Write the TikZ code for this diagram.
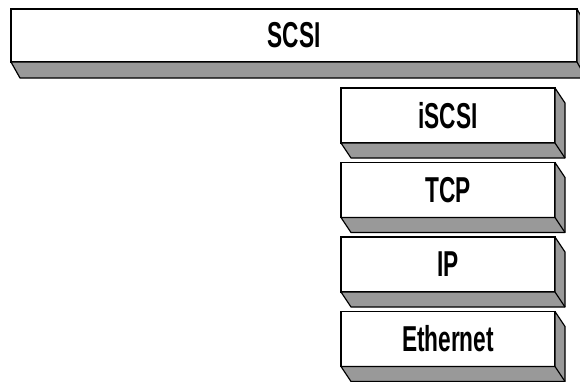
\documentclass[tikz,border=0pt]{standalone}
\usepackage{fontspec}
\usepackage{tikz}
\newfontfamily\layerfont[FakeStretch=0.63]{Liberation Sans}
\definecolor{SlabGray}{rgb}{0.6, 0.6, 0.6}
\usetikzlibrary{
	positioning,
	calc
}

\begin{document}
\begin{tikzpicture}[
	framed/.style={draw, line width=1.2pt, fill=white, inner sep=0pt, outer sep=0pt,
		font=\layerfont\bfseries\fontsize{36}{40}\selectfont},
	layer/.style={framed, minimum width=214pt, minimum height=55pt},
	widelayer/.style={framed, minimum width=566pt, minimum height=53pt},
	slab/.style={draw, line width=1.2pt, fill=SlabGray, line join=round}
]
	\useasboundingbox (0,0) rectangle (580pt,-381pt);
	\clip (0,0) rectangle (580pt,-381pt);

	\node[widelayer, anchor=north west] (scsi) at (11pt,-9pt) {SCSI};
	\draw[slab] (scsi.south west) -- ++(9pt,-16pt) -- ($(scsi.south east)+(9pt,-16pt)$)
		-- ($(scsi.north east)+(9pt,-16pt)$) -- (scsi.north east) -- (scsi.south east) -- cycle;
	\draw[slab] (scsi.south east) -- ++(9pt,-16pt);

	\node[layer, anchor=north west] (iscsi) at (341pt,-88pt) {iSCSI};
	\draw[slab] (iscsi.south west) -- ++(10pt,-15pt) -- ($(iscsi.south east)+(10pt,-15pt)$)
		-- ($(iscsi.north east)+(10pt,-15pt)$) -- (iscsi.north east) -- (iscsi.south east) -- cycle;
	\draw[slab] (iscsi.south east) -- ++(10pt,-15pt);

	\node[layer, below=19.5pt of iscsi] (tcp) {TCP};
	\draw[slab] (tcp.south west) -- ++(10pt,-15pt) -- ($(tcp.south east)+(10pt,-15pt)$)
		-- ($(tcp.north east)+(10pt,-15pt)$) -- (tcp.north east) -- (tcp.south east) -- cycle;
	\draw[slab] (tcp.south east) -- ++(10pt,-15pt);

	\node[layer, below=19.5pt of tcp] (ip) {IP};
	\draw[slab] (ip.south west) -- ++(10pt,-15pt) -- ($(ip.south east)+(10pt,-15pt)$)
		-- ($(ip.north east)+(10pt,-15pt)$) -- (ip.north east) -- (ip.south east) -- cycle;
	\draw[slab] (ip.south east) -- ++(10pt,-15pt);

	\node[layer, below=19.5pt of ip] (eth) {Ethernet};
	\draw[slab] (eth.south west) -- ++(10pt,-15pt) -- ($(eth.south east)+(10pt,-15pt)$)
		-- ($(eth.north east)+(10pt,-15pt)$) -- (eth.north east) -- (eth.south east) -- cycle;
	\draw[slab] (eth.south east) -- ++(10pt,-15pt);

\end{tikzpicture}
\end{document}
